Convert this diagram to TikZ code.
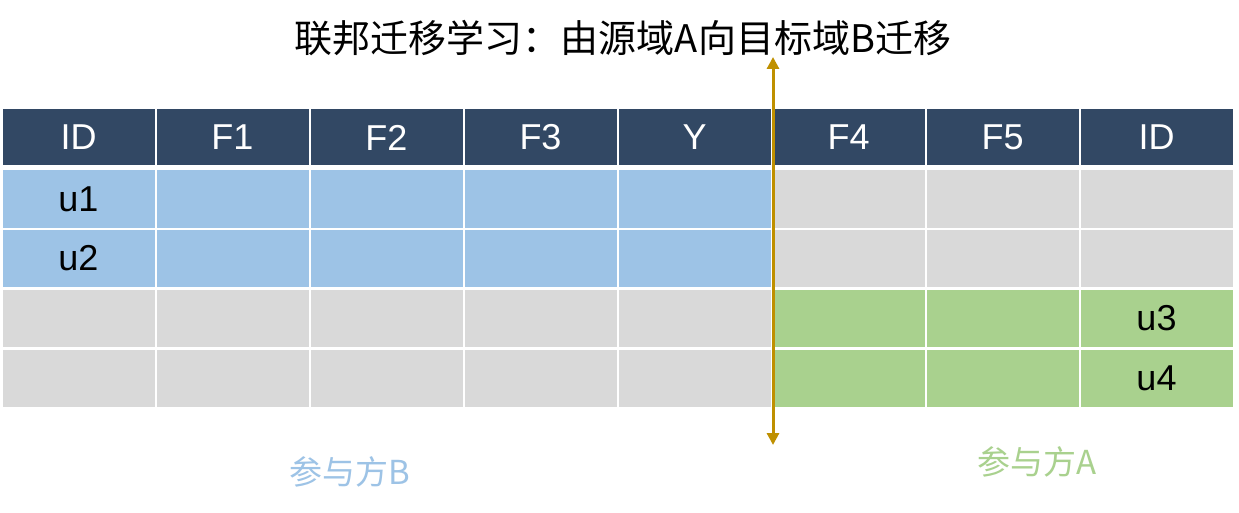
\documentclass[tikz,border=0pt]{standalone}
\usepackage{fontspec}
\setmainfont{Liberation Sans}
\newfontfamily\cjk{Noto Sans CJK SC}
\usetikzlibrary{arrows.meta}
\definecolor{hdr}{HTML}{324864}
\definecolor{cblue}{HTML}{9DC3E6}
\definecolor{cgray}{HTML}{D9D9D9}
\definecolor{cgreen}{HTML}{A9D18E}
\definecolor{cgold}{HTML}{BF9000}
\tikzset{
  cell/.style={inner sep=0pt, outer sep=0pt, minimum width=152pt, font=\fontsize{36}{40}\selectfont},
  hcell/.style={cell, fill=hdr, text=white, minimum height=56pt},
  bcell/.style={cell, fill=cblue, minimum height=57pt},
  gcell/.style={cell, fill=cgray, minimum height=57pt},
  ncell/.style={cell, fill=cgreen, minimum height=57pt},
  goldarrow/.style={draw=cgold, line width=3pt, {Triangle[width=12pt,length=12pt]}-{Triangle[width=12pt,length=12pt]}},
}
\begin{document}
\begin{tikzpicture}[x=1pt,y=-1pt]
\useasboundingbox (0,0) rectangle (1239,513);
\fill[white] (0,0) rectangle (1239,513);
% title
\node (title) at (623,38) {\cjk\fontsize{38}{44}\selectfont 联邦迁移学习：由源域A向目标域B迁移};
% header
\foreach \t [count=\j from 0] in {ID,F1,F2,F3,Y,F4,F5,ID} {
  \node[hcell] (h\j) at ({2+154*\j+76.5},137.5) {\t};
}
% row 1 and 2 : blue left, gray right
\foreach \r/\y/\lab in {1/199/u1,2/258.5/u2} {
  \node[bcell] (c\r-0) at (78.5,\y) {\lab};
  \foreach \j in {1,...,4} { \node[bcell] (c\r-\j) at ({2+154*\j+76.5},\y) {}; }
  \foreach \j in {5,...,7} { \node[gcell] (c\r-\j) at ({2+154*\j+76.5},\y) {}; }
}
% row 3 and 4 : gray left, green right
\foreach \r/\y/\lab in {3/318/u3,4/378/u4} {
  \foreach \j in {0,...,4} { \node[gcell] (c\r-\j) at ({2+154*\j+76.5},\y) {}; }
  \foreach \j in {5,6} { \node[ncell] (c\r-\j) at ({2+154*\j+76.5},\y) {}; }
  \node[ncell] (c\r-7) at ({2+154*7+76.5},\y) {\lab};
}
% arrow
\coordinate (atop) at (773,57);
\coordinate (abot) at (773,445);
\draw[goldarrow] (abot) -- (atop);
% party labels
\node[text=cblue] (pb) at (350,472) {\cjk\fontsize{33}{38}\selectfont 参与方B};
\node[text=cgreen] (pa) at (1037,462) {\cjk\fontsize{33}{38}\selectfont 参与方A};
\end{tikzpicture}
\end{document}
